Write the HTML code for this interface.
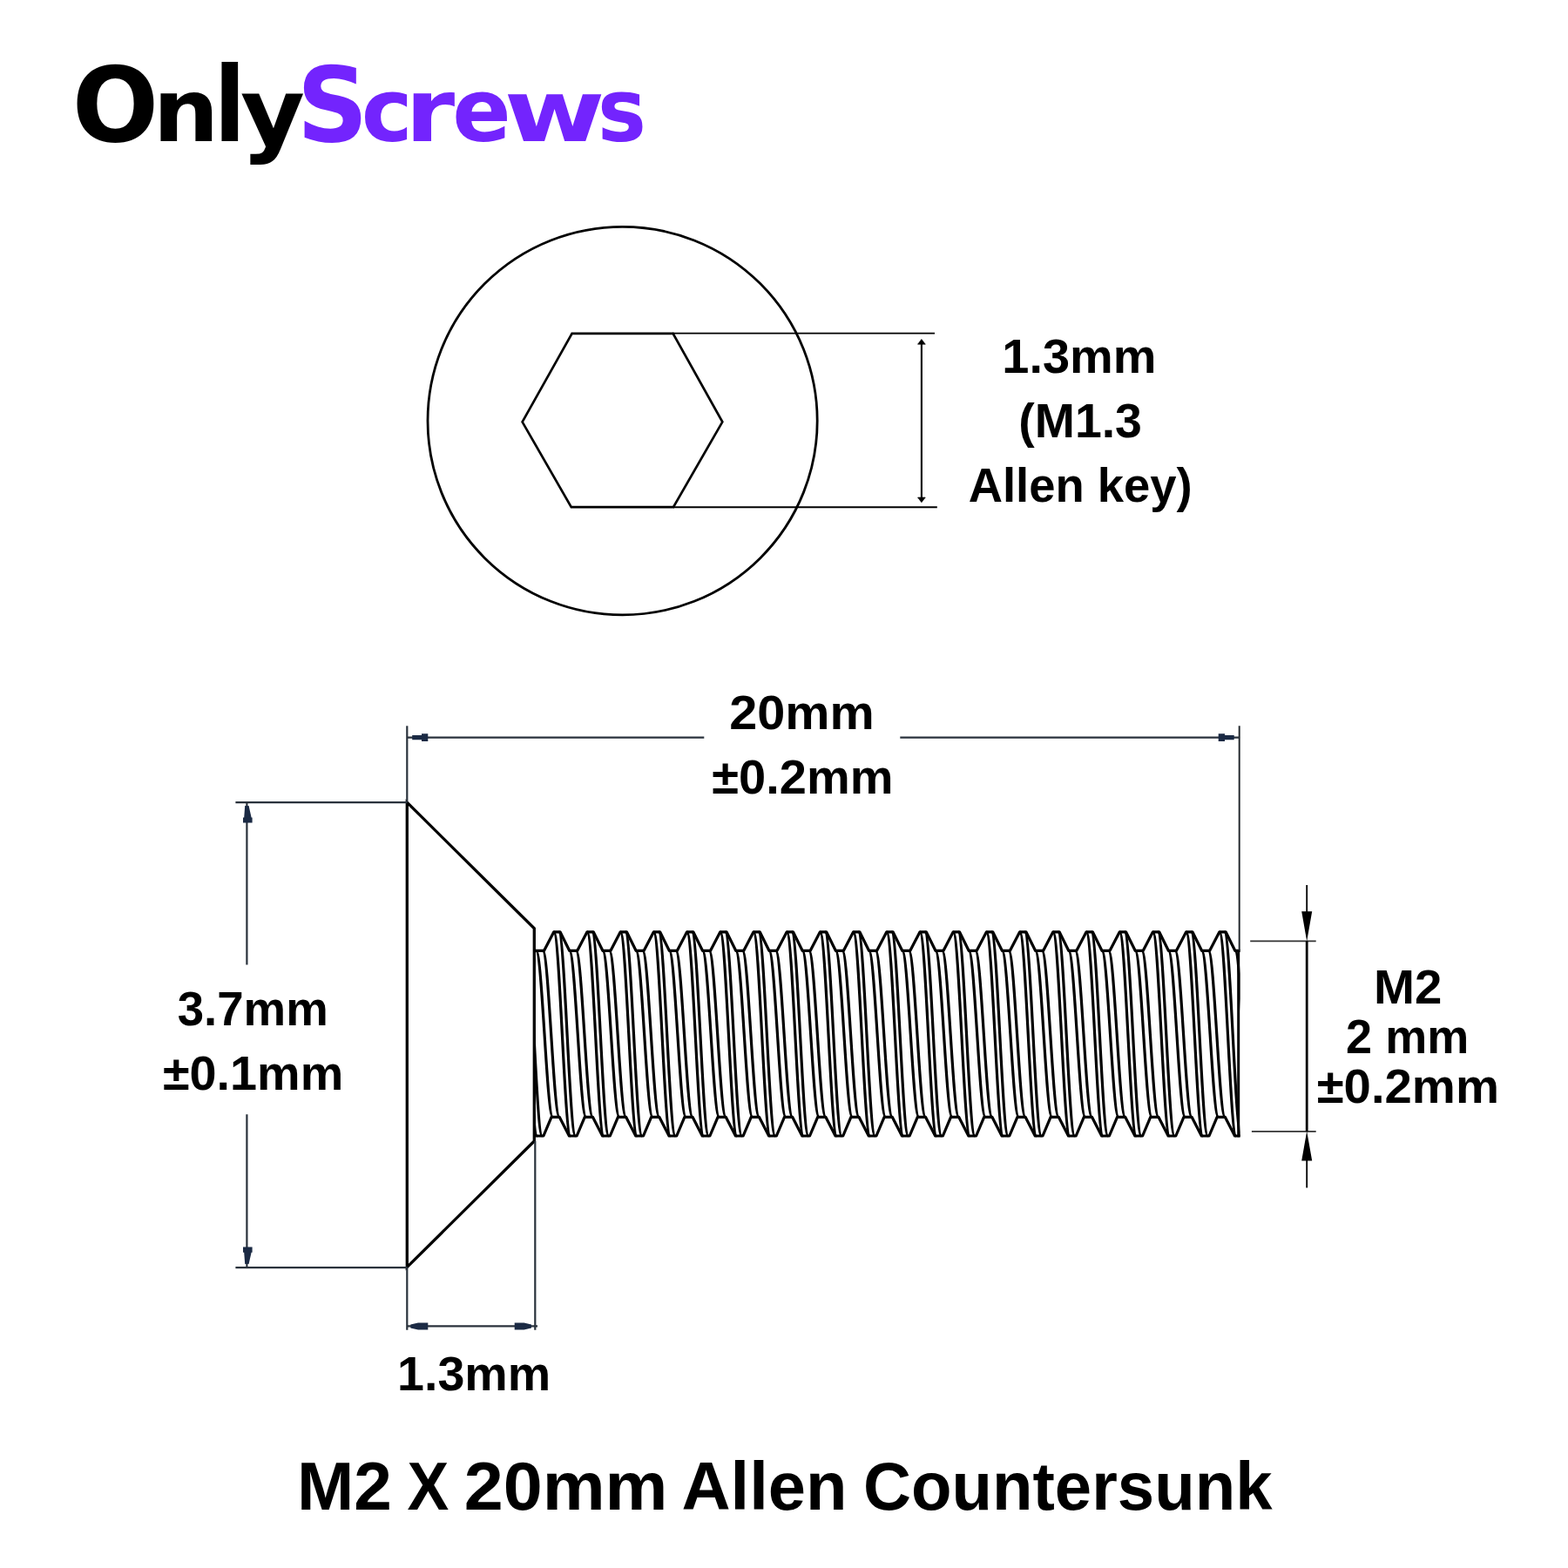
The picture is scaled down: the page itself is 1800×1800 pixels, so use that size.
<!DOCTYPE html>
<html lang="en"><head><meta charset="utf-8"><title>OnlyScrews - M2 X 20mm Allen Countersunk</title>
<style>html,body{margin:0;padding:0;background:#fff;width:1800px;height:1800px;overflow:hidden}svg{display:block}text{font-family:"Liberation Sans", sans-serif;font-weight:700}</style>
</head><body>
<svg role="img" aria-label="OnlyScrews M2 X 20mm Allen Countersunk screw dimension drawing" width="1800" height="1800" viewBox="0 0 1800 1800" font-family='"Liberation Sans", sans-serif' font-weight="bold">
<rect width="1800" height="1800" fill="#fff"/>
<g id="logo"><text fill="#000" style="font-family:&quot;DejaVu Sans&quot;,&quot;Liberation Sans&quot;,sans-serif;font-weight:700"><tspan x="82.7" y="161.7" font-size="119.2" textLength="99.4" lengthAdjust="spacingAndGlyphs">O</tspan><tspan x="175.4" y="162.0" font-size="99.1" textLength="76.0" lengthAdjust="spacingAndGlyphs">n</tspan><tspan x="245.4" y="162.0" font-size="119.1" textLength="36.6" lengthAdjust="spacingAndGlyphs">l</tspan><tspan x="276.1" y="166.3" font-size="106.5" textLength="74.1" lengthAdjust="spacingAndGlyphs">y</tspan></text><text fill="#7324fd" style="font-family:&quot;DejaVu Sans&quot;,&quot;Liberation Sans&quot;,sans-serif;font-weight:700"><tspan x="340.8" y="161.7" font-size="119.2" textLength="81.8" lengthAdjust="spacingAndGlyphs">S</tspan><tspan x="414.8" y="162.0" font-size="99.7" textLength="59.0" lengthAdjust="spacingAndGlyphs">c</tspan><tspan x="465.1" y="162.0" font-size="99.1" textLength="57.2" lengthAdjust="spacingAndGlyphs">r</tspan><tspan x="519.3" y="162.0" font-size="99.7" textLength="67.5" lengthAdjust="spacingAndGlyphs">e</tspan><tspan x="578.4" y="162.0" font-size="98.6" textLength="116.2" lengthAdjust="spacingAndGlyphs">w</tspan><tspan x="686.1" y="162.0" font-size="99.7" textLength="55.9" lengthAdjust="spacingAndGlyphs">s</tspan></text></g>
<g id="topview"><ellipse cx="714.6" cy="483.1" rx="223.6" ry="222.8" fill="none" stroke="#000" stroke-width="2.8"/><polygon points="599.6,484.3 656.6,382.8 772.6,382.8 829.3,484.3 773.0,582.2 655.8,582.2" fill="none" stroke="#000" stroke-width="2.7" stroke-linejoin="miter"/><path d="M772 382.6H1073 M773 582.3H1075.8" stroke="#000" stroke-width="1.9" fill="none"/><path d="M1057.9 392V574" stroke="#000" stroke-width="2.1" fill="none"/><path d="M1057.9 389.4l-4.4 5.8h8.8z M1057.9 576.8l-4.4 -5.8h8.8z" fill="#000" stroke="#000" stroke-width="0.6" stroke-linejoin="round"/></g>
<g id="screw"><path d="M467.3 921.2L613.3 1065.8V1310L467.3 1454.6Z" fill="none" stroke="#000" stroke-width="3.3" stroke-linejoin="miter"/><clipPath id="tc"><rect x="613.3" y="1060" width="810.30" height="255"/></clipPath><g clip-path="url(#tc)" fill="none" stroke="#000" stroke-width="3.2" stroke-linejoin="round" stroke-linecap="butt"><path d="M611.30 1091.30 L624.60 1091.30 L635.80 1069.80 L643.00 1069.80 L653.65 1091.30 L662.80 1091.30 L674.01 1069.80 L681.21 1069.80 L691.86 1091.30 L701.01 1091.30 L712.21 1069.80 L719.41 1069.80 L730.06 1091.30 L739.21 1091.30 L750.42 1069.80 L757.62 1069.80 L768.27 1091.30 L777.42 1091.30 L788.62 1069.80 L795.82 1069.80 L806.47 1091.30 L815.62 1091.30 L826.83 1069.80 L834.02 1069.80 L844.68 1091.30 L853.83 1091.30 L865.03 1069.80 L872.23 1069.80 L882.88 1091.30 L892.03 1091.30 L903.24 1069.80 L910.43 1069.80 L921.09 1091.30 L930.24 1091.30 L941.44 1069.80 L948.64 1069.80 L959.29 1091.30 L968.44 1091.30 L979.65 1069.80 L986.85 1069.80 L997.50 1091.30 L1006.65 1091.30 L1017.85 1069.80 L1025.05 1069.80 L1035.70 1091.30 L1044.85 1091.30 L1056.05 1069.80 L1063.25 1069.80 L1073.91 1091.30 L1083.06 1091.30 L1094.26 1069.80 L1101.46 1069.80 L1112.11 1091.30 L1121.26 1091.30 L1132.46 1069.80 L1139.66 1069.80 L1150.32 1091.30 L1159.47 1091.30 L1170.67 1069.80 L1177.87 1069.80 L1188.52 1091.30 L1197.67 1091.30 L1208.88 1069.80 L1216.08 1069.80 L1226.73 1091.30 L1235.88 1091.30 L1247.08 1069.80 L1254.28 1069.80 L1264.93 1091.30 L1274.08 1091.30 L1285.28 1069.80 L1292.48 1069.80 L1303.14 1091.30 L1312.29 1091.30 L1323.49 1069.80 L1330.69 1069.80 L1341.34 1091.30 L1350.49 1091.30 L1361.69 1069.80 L1368.89 1069.80 L1379.55 1091.30 L1388.70 1091.30 L1399.90 1069.80 L1407.10 1069.80 L1417.75 1091.30 L1426.90 1091.30 L1438.11 1069.80 L1445.31 1069.80 L1455.96 1091.30 L1465.11 1091.30"/><path d="M611.30 1304.00 L623.90 1304.00 L633.05 1282.30 L642.20 1282.30 L653.40 1304.00 L662.10 1304.00 L671.25 1282.30 L680.40 1282.30 L691.61 1304.00 L700.31 1304.00 L709.46 1282.30 L718.61 1282.30 L729.81 1304.00 L738.51 1304.00 L747.66 1282.30 L756.81 1282.30 L768.02 1304.00 L776.72 1304.00 L785.87 1282.30 L795.02 1282.30 L806.22 1304.00 L814.92 1304.00 L824.07 1282.30 L833.22 1282.30 L844.43 1304.00 L853.13 1304.00 L862.28 1282.30 L871.43 1282.30 L882.63 1304.00 L891.33 1304.00 L900.49 1282.30 L909.63 1282.30 L920.84 1304.00 L929.54 1304.00 L938.69 1282.30 L947.84 1282.30 L959.04 1304.00 L967.74 1304.00 L976.89 1282.30 L986.04 1282.30 L997.25 1304.00 L1005.95 1304.00 L1015.10 1282.30 L1024.25 1282.30 L1035.45 1304.00 L1044.15 1304.00 L1053.30 1282.30 L1062.45 1282.30 L1073.66 1304.00 L1082.36 1304.00 L1091.51 1282.30 L1100.66 1282.30 L1111.86 1304.00 L1120.56 1304.00 L1129.71 1282.30 L1138.87 1282.30 L1150.07 1304.00 L1158.77 1304.00 L1167.92 1282.30 L1177.07 1282.30 L1188.27 1304.00 L1196.97 1304.00 L1206.12 1282.30 L1215.28 1282.30 L1226.48 1304.00 L1235.18 1304.00 L1244.33 1282.30 L1253.48 1282.30 L1264.68 1304.00 L1273.38 1304.00 L1282.53 1282.30 L1291.68 1282.30 L1302.89 1304.00 L1311.59 1304.00 L1320.74 1282.30 L1329.89 1282.30 L1341.09 1304.00 L1349.79 1304.00 L1358.94 1282.30 L1368.09 1282.30 L1379.30 1304.00 L1388.00 1304.00 L1397.15 1282.30 L1406.30 1282.30 L1417.50 1304.00 L1426.20 1304.00 L1435.35 1282.30 L1444.50 1282.30 L1455.71 1304.00 L1464.41 1304.00 L1473.56 1282.30 L1482.71 1282.30"/><path d="M559.39 1069.80C566.34 1069.80 571.54 1304.00 578.49 1304.00 M565.09 1069.80C572.04 1069.80 577.24 1304.00 584.19 1304.00 M577.24 1091.30C584.20 1091.30 589.39 1282.30 596.35 1282.30 M584.89 1091.30C591.85 1091.30 597.04 1282.30 604.00 1282.30 M597.60 1069.80C604.55 1069.80 609.74 1304.00 616.70 1304.00 M603.29 1069.80C610.25 1069.80 615.44 1304.00 622.40 1304.00 M615.45 1091.30C622.40 1091.30 627.60 1282.30 634.55 1282.30 M623.10 1091.30C630.05 1091.30 635.25 1282.30 642.20 1282.30 M635.80 1069.80C642.75 1069.80 647.95 1304.00 654.90 1304.00 M641.50 1069.80C648.45 1069.80 653.65 1304.00 660.60 1304.00 M653.65 1091.30C660.61 1091.30 665.80 1282.30 672.75 1282.30 M661.30 1091.30C668.26 1091.30 673.45 1282.30 680.40 1282.30 M674.01 1069.80C680.96 1069.80 686.15 1304.00 693.11 1304.00 M679.71 1069.80C686.66 1069.80 691.85 1304.00 698.81 1304.00 M691.86 1091.30C698.81 1091.30 704.01 1282.30 710.96 1282.30 M699.51 1091.30C706.46 1091.30 711.66 1282.30 718.61 1282.30 M712.21 1069.80C719.16 1069.80 724.36 1304.00 731.31 1304.00 M717.91 1069.80C724.86 1069.80 730.06 1304.00 737.01 1304.00 M730.06 1091.30C737.02 1091.30 742.21 1282.30 749.16 1282.30 M737.71 1091.30C744.67 1091.30 749.86 1282.30 756.81 1282.30 M750.42 1069.80C757.37 1069.80 762.56 1304.00 769.52 1304.00 M756.12 1069.80C763.07 1069.80 768.26 1304.00 775.22 1304.00 M768.27 1091.30C775.22 1091.30 780.42 1282.30 787.37 1282.30 M775.92 1091.30C782.87 1091.30 788.07 1282.30 795.02 1282.30 M788.62 1069.80C795.57 1069.80 800.77 1304.00 807.72 1304.00 M794.32 1069.80C801.27 1069.80 806.47 1304.00 813.42 1304.00 M806.47 1091.30C813.43 1091.30 818.62 1282.30 825.57 1282.30 M814.12 1091.30C821.08 1091.30 826.27 1282.30 833.22 1282.30 M826.83 1069.80C833.78 1069.80 838.97 1304.00 845.93 1304.00 M832.52 1069.80C839.48 1069.80 844.67 1304.00 851.63 1304.00 M844.68 1091.30C851.63 1091.30 856.83 1282.30 863.78 1282.30 M852.33 1091.30C859.28 1091.30 864.48 1282.30 871.43 1282.30 M865.03 1069.80C871.98 1069.80 877.18 1304.00 884.13 1304.00 M870.73 1069.80C877.68 1069.80 882.88 1304.00 889.83 1304.00 M882.88 1091.30C889.84 1091.30 895.03 1282.30 901.99 1282.30 M890.53 1091.30C897.49 1091.30 902.68 1282.30 909.63 1282.30 M903.24 1069.80C910.19 1069.80 915.38 1304.00 922.34 1304.00 M908.93 1069.80C915.89 1069.80 921.08 1304.00 928.04 1304.00 M921.09 1091.30C928.04 1091.30 933.24 1282.30 940.19 1282.30 M928.74 1091.30C935.69 1091.30 940.89 1282.30 947.84 1282.30 M941.44 1069.80C948.39 1069.80 953.59 1304.00 960.54 1304.00 M947.14 1069.80C954.09 1069.80 959.29 1304.00 966.24 1304.00 M959.29 1091.30C966.25 1091.30 971.44 1282.30 978.39 1282.30 M966.94 1091.30C973.90 1091.30 979.09 1282.30 986.04 1282.30 M979.65 1069.80C986.60 1069.80 991.79 1304.00 998.75 1304.00 M985.35 1069.80C992.30 1069.80 997.49 1304.00 1004.45 1304.00 M997.50 1091.30C1004.45 1091.30 1009.65 1282.30 1016.60 1282.30 M1005.15 1091.30C1012.10 1091.30 1017.30 1282.30 1024.25 1282.30 M1017.85 1069.80C1024.80 1069.80 1030.00 1304.00 1036.95 1304.00 M1023.55 1069.80C1030.50 1069.80 1035.70 1304.00 1042.65 1304.00 M1035.70 1091.30C1042.66 1091.30 1047.85 1282.30 1054.80 1282.30 M1043.35 1091.30C1050.31 1091.30 1055.50 1282.30 1062.45 1282.30 M1056.05 1069.80C1063.01 1069.80 1068.20 1304.00 1075.16 1304.00 M1061.75 1069.80C1068.71 1069.80 1073.90 1304.00 1080.86 1304.00 M1073.91 1091.30C1080.86 1091.30 1086.06 1282.30 1093.01 1282.30 M1081.56 1091.30C1088.51 1091.30 1093.71 1282.30 1100.66 1282.30 M1094.26 1069.80C1101.21 1069.80 1106.41 1304.00 1113.36 1304.00 M1099.96 1069.80C1106.91 1069.80 1112.11 1304.00 1119.06 1304.00 M1112.11 1091.30C1119.07 1091.30 1124.26 1282.30 1131.21 1282.30 M1119.76 1091.30C1126.72 1091.30 1131.91 1282.30 1138.87 1282.30 M1132.46 1069.80C1139.42 1069.80 1144.61 1304.00 1151.57 1304.00 M1138.16 1069.80C1145.12 1069.80 1150.31 1304.00 1157.27 1304.00 M1150.32 1091.30C1157.27 1091.30 1162.47 1282.30 1169.42 1282.30 M1157.97 1091.30C1164.92 1091.30 1170.12 1282.30 1177.07 1282.30 M1170.67 1069.80C1177.62 1069.80 1182.82 1304.00 1189.77 1304.00 M1176.37 1069.80C1183.32 1069.80 1188.52 1304.00 1195.47 1304.00 M1188.52 1091.30C1195.48 1091.30 1200.67 1282.30 1207.62 1282.30 M1196.17 1091.30C1203.13 1091.30 1208.32 1282.30 1215.28 1282.30 M1208.88 1069.80C1215.83 1069.80 1221.02 1304.00 1227.98 1304.00 M1214.58 1069.80C1221.53 1069.80 1226.72 1304.00 1233.68 1304.00 M1226.73 1091.30C1233.68 1091.30 1238.88 1282.30 1245.83 1282.30 M1234.38 1091.30C1241.33 1091.30 1246.53 1282.30 1253.48 1282.30 M1247.08 1069.80C1254.03 1069.80 1259.23 1304.00 1266.18 1304.00 M1252.78 1069.80C1259.73 1069.80 1264.93 1304.00 1271.88 1304.00 M1264.93 1091.30C1271.89 1091.30 1277.08 1282.30 1284.03 1282.30 M1272.58 1091.30C1279.54 1091.30 1284.73 1282.30 1291.68 1282.30 M1285.28 1069.80C1292.24 1069.80 1297.43 1304.00 1304.39 1304.00 M1290.98 1069.80C1297.94 1069.80 1303.13 1304.00 1310.09 1304.00 M1303.14 1091.30C1310.09 1091.30 1315.29 1282.30 1322.24 1282.30 M1310.79 1091.30C1317.74 1091.30 1322.94 1282.30 1329.89 1282.30 M1323.49 1069.80C1330.44 1069.80 1335.64 1304.00 1342.59 1304.00 M1329.19 1069.80C1336.14 1069.80 1341.34 1304.00 1348.29 1304.00 M1341.34 1091.30C1348.30 1091.30 1353.49 1282.30 1360.44 1282.30 M1348.99 1091.30C1355.95 1091.30 1361.14 1282.30 1368.09 1282.30 M1361.69 1069.80C1368.65 1069.80 1373.84 1304.00 1380.80 1304.00 M1367.39 1069.80C1374.35 1069.80 1379.54 1304.00 1386.50 1304.00 M1379.55 1091.30C1386.50 1091.30 1391.70 1282.30 1398.65 1282.30 M1387.20 1091.30C1394.15 1091.30 1399.35 1282.30 1406.30 1282.30 M1399.90 1069.80C1406.85 1069.80 1412.05 1304.00 1419.00 1304.00 M1405.60 1069.80C1412.55 1069.80 1417.75 1304.00 1424.70 1304.00 M1417.75 1091.30C1424.71 1091.30 1429.90 1282.30 1436.85 1282.30 M1425.40 1091.30C1432.36 1091.30 1437.55 1282.30 1444.50 1282.30 M1438.11 1069.80C1445.06 1069.80 1450.25 1304.00 1457.21 1304.00 M1443.81 1069.80C1450.76 1069.80 1455.95 1304.00 1462.91 1304.00 M1455.96 1091.30C1462.91 1091.30 1468.11 1282.30 1475.06 1282.30 M1463.61 1091.30C1470.56 1091.30 1475.76 1282.30 1482.71 1282.30"/></g><path d="M1421.7 1090.3V1305.3" stroke="#000" stroke-width="3" fill="none"/></g>
<g id="dims"><path d="M270.4 921.2H467.3 M270.4 1455.2H467.3" stroke="#2a323c" stroke-width="2.2" fill="none"/><path d="M283.4 921.2V1107.6 M283.4 1279.2V1455.2" stroke="#2a323c" stroke-width="2.2" fill="none"/><path d="M281.2 925L285.6 925L288.6 938.5H289.6V944.6H279V938.5H280.2Z" fill="#1b2a44"/><path d="M281.2 1451L285.6 1451L288.6 1437.7H289.6V1431.4H279V1437.7H280.2Z" fill="#1b2a44"/><path d="M467.3 833.3V921.2" stroke="#2a323c" stroke-width="2.2" fill="none"/><path d="M1422.7 833.3V1091.3" stroke="#262b30" stroke-width="2" fill="none"/><path d="M467.3 846.6H808.3 M1033.3 846.6H1422.6" stroke="#2a323c" stroke-width="2.2" fill="none"/><path d="M473.2 844V849.3H484V851H491.3V842.3H484V844Z" fill="#1b2a44"/><path d="M1416.7 844V849.3H1406V851H1398.7V842.3H1406V844Z" fill="#1b2a44"/><path d="M467.3 1454.6V1526.7 M614.3 1310V1526.7" stroke="#2a323c" stroke-width="2.2" fill="none"/><path d="M467.3 1522.4H617" stroke="#2a323c" stroke-width="2.2" fill="none"/><path d="M471.3 1520.4V1524.6L480 1526.6H491.3V1518.6H480Z" fill="#1b2a44"/><path d="M610 1520.4V1524.6L601.5 1526.6H590.7V1518.6H601.5Z" fill="#1b2a44"/><path d="M1435.2 1080.3H1510.7 M1436.9 1298.8H1510.7" stroke="#333" stroke-width="1.8" fill="none"/><path d="M1500.2 1016V1050 M1500.2 1330V1363.6" stroke="#000" stroke-width="1.8" fill="none"/><path d="M1500.2 1080.3V1298.8" stroke="#000" stroke-width="2.8" fill="none"/><path d="M1500.2 1080.5L1494.2 1046.2H1506.2Z M1500.2 1298.6L1494.2 1332.4H1506.2Z" fill="#000"/></g>
<g id="labels"><text transform="translate(1150.37 428.20) scale(1.0149 1)" font-size="55.10" fill="#000">1.3mm</text><text transform="translate(1169.23 502.20) scale(1.0066 1)" font-size="55.10" fill="#000">(M1.3</text><text transform="translate(1111.64 576.20) scale(0.9875 1)" font-size="55.10" fill="#000">Allen key)</text><text transform="translate(837.18 836.70) scale(1.0461 1)" font-size="55.10" fill="#000">20mm</text><text transform="translate(817.30 910.80) scale(1.0164 1)" font-size="55.10" fill="#000">±0.2mm</text><text transform="translate(203.63 1177.00) scale(0.9917 1)" font-size="55.10" fill="#000">3.7mm</text><text transform="translate(186.91 1250.80) scale(1.0124 1)" font-size="55.10" fill="#000">±0.1mm</text><text transform="translate(1577.03 1152.10) scale(1.0240 1)" font-size="55.10" fill="#000">M2</text><text transform="translate(1545.11 1209.20) scale(0.9800 1)" font-size="55.10" fill="#000">2 mm</text><text transform="translate(1511.69 1266.20) scale(1.0219 1)" font-size="55.10" fill="#000">±0.2mm</text><text transform="translate(456.09 1595.60) scale(1.0089 1)" font-size="55.10" fill="#000">1.3mm</text><text y="1733.00" font-size="77.20" fill="#000"><tspan x="340.91" textLength="108.86" lengthAdjust="spacingAndGlyphs">M2</tspan> <tspan x="467.48" textLength="47.78" lengthAdjust="spacingAndGlyphs">X</tspan> <tspan x="532.77" textLength="233.73" lengthAdjust="spacingAndGlyphs">20mm</tspan> <tspan x="782.46" textLength="189.99" lengthAdjust="spacingAndGlyphs">Allen</tspan> <tspan x="990.95" textLength="469.70" lengthAdjust="spacingAndGlyphs">Countersunk</tspan></text></g>
</svg>
</body></html>
